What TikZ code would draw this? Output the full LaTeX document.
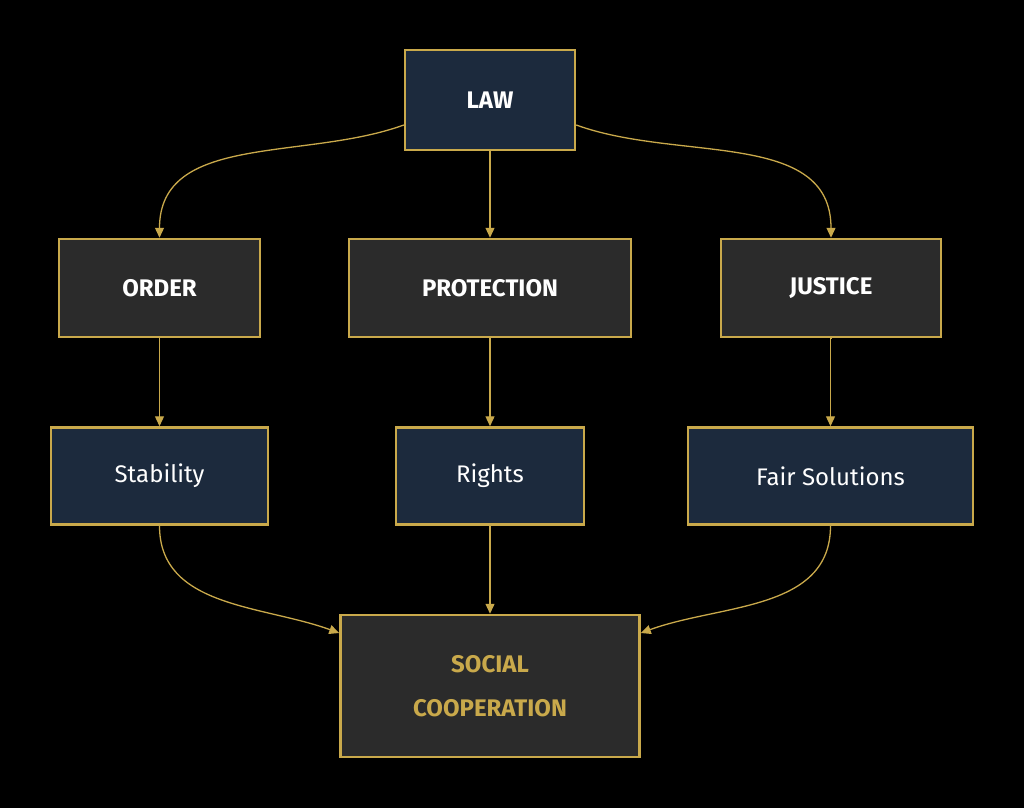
\documentclass[tikz,border=0pt]{standalone}
\usepackage{fontspec}
\setmainfont{Fira Sans}
\usetikzlibrary{arrows.meta}
\definecolor{gold}{HTML}{C9A94B}
\definecolor{navy}{HTML}{1C2A3D}
\definecolor{coal}{HTML}{2B2B2B}
\tikzset{
  box/.style={draw=gold,line width=2.5pt,text=white,inner sep=0pt,font=\fontsize{24}{28}\selectfont},
  blue/.style={box,fill=navy},
  grey/.style={box,fill=coal},
  link/.style={draw=gold,line width=1.3pt,-{Triangle[length=10pt,width=9pt]}}
}
\begin{document}
\begin{tikzpicture}[x=1pt,y=-1pt]
  \fill[black] (0,0) rectangle (1024,808);
  \node[blue,minimum width=170,minimum height=100,font=\fontsize{24}{28}\selectfont\bfseries] (law) at (490,100) {LAW};
  \node[grey,minimum width=201,minimum height=98,font=\fontsize{24}{28}\selectfont\bfseries] (order) at (159.5,288) {ORDER};
  \node[grey,minimum width=282,minimum height=98,font=\fontsize{24}{28}\selectfont\bfseries] (prot) at (490,288) {PROTECTION};
  \node[grey,minimum width=220,minimum height=98,font=\fontsize{24}{28}\selectfont\bfseries] (just) at (831,288) {JUSTICE};
  \node[blue,minimum width=217,minimum height=97] (stab) at (159.5,476) {Stability};
  \node[blue,minimum width=188,minimum height=97] (rights) at (490,476) {Rights};
  \node[blue,minimum width=285,minimum height=97] (fair) at (830.5,476) {Fair Solutions};
  \node[grey,minimum width=299,minimum height=142,text=gold,align=center,font=\fontsize{24}{44}\selectfont\bfseries] (coop) at (490,686) {SOCIAL\\COOPERATION};
  \draw[link] (law.west |- 0,125) to[out=200,in=90] (order.north);
  \draw[link] (law.south) -- (prot.north);
  \draw[link] (law.east |- 0,125) to[out=-20,in=90] (just.north);
  \draw[link] (order.south) -- (stab.north);
  \draw[link] (prot.south) -- (rights.north);
  \draw[link] (just.south) -- (fair.north |- just.south) ++(0,0) -- (fair.north);
  \draw[link] (stab.south) to[out=-90,in=160] (coop.west |- 0,633);
  \draw[link] (rights.south) -- (coop.north);
  \draw[link] (fair.south) to[out=-90,in=20] (coop.east |- 0,633);
\end{tikzpicture}
\end{document}
